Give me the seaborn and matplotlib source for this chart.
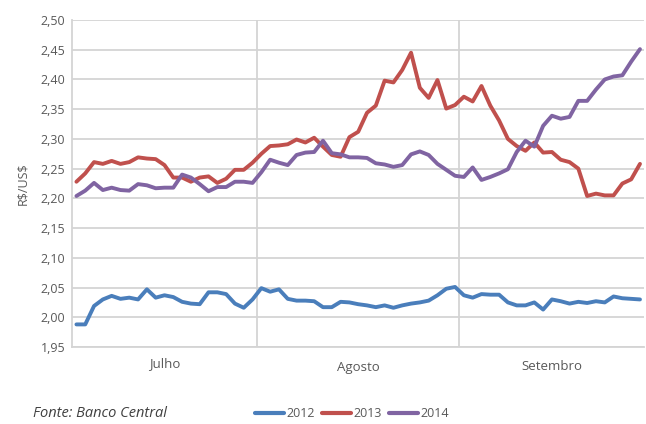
import pandas as pd
import seaborn as sns
import matplotlib.pyplot as plt
from matplotlib.lines import Line2D
from matplotlib.ticker import FuncFormatter
import matplotlib.transforms as mtransforms

# daily R$/US$ quotes, July to September
months = ["Julho", "Agosto", "Setembro"]
month_days = [21, 23, 21]
years = ["2012", "2013", "2014"]

usd_2012 = [1.988, 1.988, 2.019, 2.030, 2.036, 2.031, 2.033, 2.030, 2.047, 2.033,
            2.037, 2.034, 2.026, 2.023, 2.022, 2.042, 2.042, 2.039, 2.023, 2.016,
            2.030, 2.049, 2.043, 2.047, 2.031, 2.028, 2.028, 2.027, 2.017, 2.017,
            2.026, 2.025, 2.022, 2.020, 2.017, 2.020, 2.016, 2.020, 2.023, 2.025,
            2.028, 2.037, 2.048, 2.051, 2.037, 2.033, 2.039, 2.038, 2.038, 2.025,
            2.020, 2.020, 2.025, 2.013, 2.030, 2.027, 2.023, 2.026, 2.024, 2.027,
            2.025, 2.035, 2.032, 2.031, 2.030]
usd_2013 = [2.228, 2.242, 2.261, 2.258, 2.263, 2.258, 2.261, 2.269, 2.267, 2.266,
            2.256, 2.235, 2.235, 2.228, 2.235, 2.237, 2.226, 2.233, 2.248, 2.248,
            2.260, 2.275, 2.288, 2.289, 2.291, 2.299, 2.294, 2.302, 2.287, 2.273,
            2.270, 2.303, 2.312, 2.344, 2.356, 2.398, 2.395, 2.416, 2.445, 2.386,
            2.369, 2.399, 2.351, 2.357, 2.371, 2.363, 2.389, 2.356, 2.331, 2.300,
            2.288, 2.280, 2.294, 2.277, 2.278, 2.265, 2.261, 2.250, 2.204, 2.208,
            2.205, 2.205, 2.225, 2.232, 2.258]
usd_2014 = [2.204, 2.213, 2.226, 2.214, 2.218, 2.214, 2.213, 2.224, 2.222, 2.217,
            2.218, 2.218, 2.240, 2.235, 2.224, 2.212, 2.219, 2.219, 2.228, 2.228,
            2.226, 2.244, 2.265, 2.260, 2.256, 2.273, 2.277, 2.278, 2.297, 2.276,
            2.274, 2.269, 2.269, 2.268, 2.259, 2.257, 2.253, 2.256, 2.274, 2.279,
            2.273, 2.258, 2.248, 2.238, 2.236, 2.252, 2.231, 2.236, 2.242, 2.249,
            2.278, 2.297, 2.287, 2.322, 2.339, 2.334, 2.337, 2.364, 2.364, 2.383,
            2.400, 2.405, 2.407, 2.430, 2.451]

colors = ["#4a7ebb", "#c0504d", "#8064a2"]
grid_color = "#d4d4d4"
text_color = "#595959"

rows = []
for year, vals in zip(years, [usd_2012, usd_2013, usd_2014]):
    for i, v in enumerate(vals):
        rows.append({"dia": i, "cotacao": v, "ano": year})
df = pd.DataFrame(rows)
n_days = len(usd_2012)

sns.set_theme(style="white")
plt.rcParams["font.family"] = ["Open Sans", "DejaVu Sans"]

fig = plt.figure(figsize=(6.46, 4.24), dpi=100)
ax = fig.add_axes([0.1115, 0.1816, 0.886, 0.7712])

sns.lineplot(data=df, x="dia", y="cotacao", hue="ano", palette=colors,
             linewidth=2.8, legend=False, ax=ax, zorder=3)

ax.set_xlim(-0.5, n_days - 0.5)
ax.set_ylim(1.95, 2.50)
ax.set_yticks([1.95 + 0.05 * k for k in range(12)])
ax.yaxis.set_major_formatter(FuncFormatter(lambda v, p: f"{v:.2f}".replace(".", ",")))
ax.grid(axis="y", color=grid_color, linewidth=1.3)
ax.set_axisbelow(True)

# month boundaries
bounds = []
acc = 0
for d in month_days[:-1]:
    acc += d
    bounds.append(acc - 0.5)
for b in bounds:
    ax.axvline(b, color=grid_color, linewidth=1.3, zorder=1)

# category tick marks
ax.set_xticks([i - 0.5 for i in range(n_days + 1)])
ax.set_xticklabels([])
ax.tick_params(axis="x", direction="out", length=3, width=0.8, color=grid_color)
ax.tick_params(axis="y", direction="out", length=3, width=1.0, color=grid_color,
               labelsize=9, labelcolor=text_color, pad=2)
ax.set_xlabel("")
ax.set_ylabel(r"R\$/US\$", fontsize=9, color=text_color, labelpad=8)

for side in ["top", "right"]:
    ax.spines[side].set_visible(False)
for side in ["left", "bottom"]:
    ax.spines[side].set_color(grid_color)
    ax.spines[side].set_linewidth(1.3)

# month labels
trans = mtransforms.blended_transform_factory(ax.transData, ax.transAxes)
start = 0
label_y = [-0.050, -0.062, -0.059]
for name, d, ly in zip(months, month_days, label_y):
    center = start + (d - 1) / 2
    ax.text(center, ly, name, transform=trans, ha="center", va="center",
            fontsize=9.5, color=text_color)
    start += d

handles = [Line2D([0], [0], color=c, linewidth=3) for c in colors]
fig.legend(handles, years, loc="center", bbox_to_anchor=(0.545, 0.024),
           ncol=3, frameon=False, fontsize=9, handlelength=2.3,
           handletextpad=0.2, columnspacing=0.6, labelcolor=text_color)

fig.text(0.051, 0.024, "Fonte: Banco Central", style="italic", fontsize=10.5,
         color="#404040", ha="left", va="center")

plt.savefig("out.png", dpi=100)
plt.close()
